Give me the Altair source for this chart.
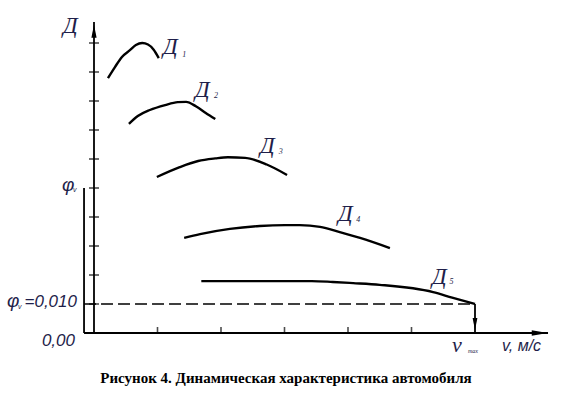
import altair as alt
import pandas as pd

# ---- data (v in speed-tick units, D dynamic factor) ----
d1_v = [0.22, 0.33, 0.44, 0.57, 0.66, 0.76, 0.85, 0.94, 1.02]
d1_D = [0.0879, 0.0917, 0.0952, 0.0976, 0.0993, 0.1000, 0.0995, 0.0977, 0.0948]
d2_v = [0.55, 0.69, 0.88, 1.12, 1.32, 1.45, 1.61, 1.76, 1.91]
d2_D = [0.0721, 0.0748, 0.0769, 0.0786, 0.0796, 0.0797, 0.0781, 0.0759, 0.0738]
d3_v = [0.99, 1.35, 1.64, 1.91, 2.11, 2.38, 2.72, 3.04]
d3_D = [0.0538, 0.0572, 0.0593, 0.0602, 0.0606, 0.0604, 0.0581, 0.0545]
d4_v = [1.42, 1.67, 2.14, 2.61, 3.01, 3.24, 3.56, 3.87, 4.19, 4.66]
d4_D = [0.0328, 0.0341, 0.0359, 0.0369, 0.0372, 0.0372, 0.0366, 0.0348, 0.0328, 0.0293]
d5_v = [1.69, 3.43, 3.76, 4.08, 4.50, 5.34, 5.64, 6.00]
d5_D = [0.0179, 0.0179, 0.0176, 0.0172, 0.0166, 0.0141, 0.0122, 0.0100]

phi_v = 0.010        # rolling resistance level
phi_upper = 0.05     # φv mark on the axis
v_max = 6.0
y_ticks = [0.01, 0.02, 0.03, 0.04, 0.05, 0.06, 0.07, 0.08, 0.09, 0.10]
x_ticks = [1, 2, 3, 4, 5]

rows = []
for name, vs, ds in [("Д1", d1_v, d1_D), ("Д2", d2_v, d2_D), ("Д3", d3_v, d3_D),
                     ("Д4", d4_v, d4_D), ("Д5", d5_v, d5_D)]:
    for v, d in zip(vs, ds):
        rows.append({"curve": name, "v": v, "D": d})
curves = pd.DataFrame(rows)

# ---- scales: whole canvas is the plot area ----
W, H = 561, 398
xs = alt.Scale(domain=[-94 / 63.5, (W - 94) / 63.5], nice=False, zero=False)
ys = alt.Scale(domain=[-65 / 2900, 333 / 2900], nice=False, zero=False)
X = lambda f="v": alt.X(f"{f}:Q", scale=xs, axis=None)
Y = lambda f="D": alt.Y(f"{f}:Q", scale=ys, axis=None)

ink = "#000000"
lab = "#1e1e4a"

lines = alt.Chart(curves).mark_line(color=ink, strokeWidth=2.4, interpolate="monotone").encode(
    x=X(), y=Y(), detail="curve:N", order="v:Q")

x_left = -0.157
axes_df = pd.DataFrame([
    {"v": 0.0, "v2": 0.0, "D": 0.0, "D2": 0.1072},         # y axis
    {"v": x_left, "v2": x_left, "D": 0.0, "D2": phi_upper},  # secondary vertical
    {"v": x_left, "v2": 7.15, "D": 0.0, "D2": 0.0},         # x axis
    {"v": v_max, "v2": v_max, "D": 0.0, "D2": phi_v},       # v_max drop
])
axes = alt.Chart(axes_df).mark_rule(color=ink, strokeWidth=1.8).encode(
    x=X(), x2="v2:Q", y=Y(), y2="D2:Q")

dash = alt.Chart(pd.DataFrame([{"v": x_left, "v2": v_max, "D": phi_v}])).mark_rule(
    color=ink, strokeWidth=1.4, strokeDash=[12, 5]).encode(x=X(), x2="v2:Q", y=Y())

yt = alt.Chart(pd.DataFrame({"D": y_ticks, "v": [0.0] * len(y_ticks)})).mark_tick(
    orient="horizontal", size=10, thickness=1.6, color=ink).encode(x=X(), y=Y())
xt = alt.Chart(pd.DataFrame({"v": x_ticks, "D": [0.0] * len(x_ticks)})).mark_tick(
    orient="vertical", size=6, thickness=1.6, color=ink, yOffset=-3).encode(x=X(), y=Y())

up = alt.Chart(pd.DataFrame([{"v": 0.0, "D": 0.1041}])).mark_point(
    shape="M0,-1L0.4,1L-0.4,1Z", size=170, filled=True, opacity=1, color=ink, strokeWidth=0).encode(x=X(), y=Y())
right = alt.Chart(pd.DataFrame([{"v": 7.02, "D": 0.0}])).mark_point(
    shape="M1,0L-1,0.35L-1,-0.35Z", size=256, filled=True, opacity=1, color=ink, strokeWidth=0).encode(x=X(), y=Y())
down = alt.Chart(pd.DataFrame([{"v": v_max, "D": 0.0031}])).mark_point(
    shape="M0,1L0.4,-1L-0.4,-1Z", size=144, filled=True, opacity=1, color=ink, strokeWidth=0).encode(x=X(), y=Y())

def txt(df, **kw):
    return alt.Chart(pd.DataFrame(df)).mark_text(baseline="alphabetic", **kw).encode(
        x=X(), y=Y(), text="t:N")

serif_big = txt([
    {"v": -0.488, "D": 0.1034, "t": "Д"},
    {"v": 1.087, "D": 0.0962, "t": "Д"},
    {"v": 1.591, "D": 0.0814, "t": "Д"},
    {"v": 2.614, "D": 0.0621, "t": "Д"},
    {"v": 3.843, "D": 0.0386, "t": "Д"},
    {"v": 5.323, "D": 0.0169, "t": "Д"},
], align="left", font="Liberation Serif", fontStyle="italic", fontSize=23, color=lab)
subs = txt([
    {"v": 1.39, "D": 0.0952, "t": "1"},
    {"v": 1.89, "D": 0.0810, "t": "2"},
    {"v": 2.91, "D": 0.0617, "t": "3"},
    {"v": 4.13, "D": 0.0383, "t": "4"},
    {"v": 5.60, "D": 0.0169, "t": "5"},
], align="left", font="Liberation Serif", fontStyle="italic", fontSize=8, color=lab)

sans_font = "Liberation Sans"
phi_sym = txt([
    {"v": (62 - 94) / 63.5, "D": (333 - 191) / 2900, "t": "φ"},
    {"v": (7 - 94) / 63.5, "D": (333 - 307) / 2900, "t": "φ"},
], align="left", font=sans_font, fontStyle="italic", fontSize=19, color=lab)
phi_sub = txt([
    {"v": (73 - 94) / 63.5, "D": (333 - 192) / 2900, "t": "v"},
    {"v": (18 - 94) / 63.5, "D": (333 - 309) / 2900, "t": "v"},
], align="left", font=sans_font, fontStyle="italic", fontSize=7, color=lab)
nums = txt([
    {"v": (77 - 94) / 63.5, "D": (333 - 307) / 2900, "t": "=0,010"},
    {"v": (75 - 94) / 63.5, "D": (333 - 346) / 2900, "t": "0,00"},
], align="right", font=sans_font, fontStyle="italic", fontSize=17, color=lab)

vmax_t = txt([{"v": (452 - 94) / 63.5, "D": (333 - 352) / 2900, "t": "v"}],
             align="left", font="Liberation Serif", fontStyle="italic", fontSize=22, color=lab)
vmax_s = txt([{"v": (468 - 94) / 63.5, "D": (333 - 353) / 2900, "t": "max"}],
             align="left", font="Liberation Serif", fontStyle="italic", fontSize=6, color=lab)
vunit = txt([{"v": (502 - 94) / 63.5, "D": (333 - 351) / 2900, "t": "v,  м/с"}],
            align="left", font=sans_font, fontStyle="italic", fontSize=16, color=lab)

caption = txt([{"v": (286 - 94) / 63.5, "D": (333 - 383) / 2900,
                "t": "Рисунок 4. Динамическая характеристика  автомобиля"}],
              align="center", font="Liberation Serif", fontWeight="bold", fontSize=15, color="#000000")

chart = alt.layer(
    dash, axes, yt, xt, lines, up, right, down,
    serif_big, subs, phi_sym, phi_sub, nums, vmax_t, vmax_s, vunit, caption
).properties(
    width=W, height=H, padding=0, autosize=alt.AutoSizeParams(type="none"),
    background="white"
).configure_view(stroke=None)

chart.save("out.html", embed_options={"renderer": "svg", "actions": False})
